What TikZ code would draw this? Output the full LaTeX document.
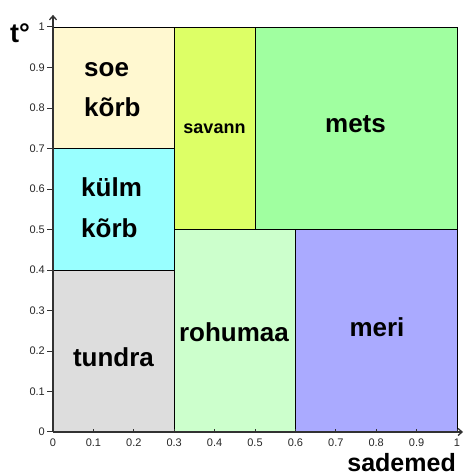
\documentclass[tikz,border=0pt]{standalone}
\usepackage{fontspec}
\setmainfont{Liberation Sans}
\usetikzlibrary{arrows.meta}
\definecolor{soecol}{RGB}{255,248,208}
\definecolor{kulmcol}{RGB}{153,255,255}
\definecolor{tundracol}{RGB}{221,221,221}
\definecolor{savanncol}{RGB}{221,255,102}
\definecolor{metscol}{RGB}{160,255,160}
\definecolor{rohucol}{RGB}{204,255,204}
\definecolor{mericol}{RGB}{170,170,255}
\definecolor{axiscol}{RGB}{50,50,50}
\begin{document}
\begin{tikzpicture}[x=1pt,y=1pt,
  zone/.style={draw=black,line width=0.9pt},
  biome/.style={inner sep=0pt,font=\fontsize{26}{30}\selectfont\bfseries},
  smallbiome/.style={inner sep=0pt,font=\fontsize{18}{22}\selectfont\bfseries},
  ticklabel/.style={inner sep=0pt,font=\fontsize{11}{13}\selectfont,text=black!85},
  axisline/.style={draw=axiscol,line width=1.3pt},
  tickmark/.style={draw=axiscol,line width=1pt}]
\useasboundingbox (0,0) rectangle (465,475);

% climate zones in data coordinates (rainfall x, temperature y)
\begin{scope}[shift={(53,43)},x=404pt,y=405pt]
  \filldraw[zone,fill=soecol]    (0,0.7)   rectangle (0.3,1);
  \filldraw[zone,fill=kulmcol]   (0,0.4)   rectangle (0.3,0.7);
  \filldraw[zone,fill=tundracol] (0,0)     rectangle (0.3,0.4);
  \filldraw[zone,fill=savanncol] (0.3,0.5) rectangle (0.5,1);
  \filldraw[zone,fill=metscol]   (0.5,0.5) rectangle (1,1);
  \filldraw[zone,fill=rohucol]   (0.3,0)   rectangle (0.6,0.5);
  \filldraw[zone,fill=mericol]   (0.6,0)   rectangle (1,0.5);

  % axes
  \coordinate (org) at (0,0);
  \coordinate (ytip) at (0,1.03);
  \coordinate (xtip) at (1.015,0);
  \draw[axisline,-{Straight Barb[length=4pt,width=7pt]}] (org) -- (ytip);
  \draw[axisline,-{Straight Barb[length=4pt,width=7pt]}] (org) -- (xtip);

  % ticks and their labels
  \foreach \v/\t in {0/0,1/0.1,2/0.2,3/0.3,4/0.4,5/0.5,6/0.6,7/0.7,8/0.8,9/0.9,10/1}{
    \draw[tickmark] (-6pt,\v/10) -- (0,\v/10);
    \draw[tickmark] (\v/10,0) -- (\v/10,3pt);
    \node[ticklabel,anchor=east] (yl\v) at ([xshift=-8pt]0,\v/10) {\t};
    \node[ticklabel,anchor=base] (xl\v) at ([yshift=-15pt]\v/10,0) {\t};
  }
\end{scope}

% zone names
\node[biome,anchor=base west] (soe)    at (84,398) {soe};
\node[biome,anchor=base west] (korb1)  at (84,358) {kõrb};
\node[biome,anchor=base west] (kulm)   at (81,278) {külm};
\node[biome,anchor=base west] (korb2)  at (81,237) {kõrb};
\node[smallbiome,anchor=base] (savann) at (214.5,341) {savann};
\node[biome,anchor=base] (mets)        at (355.5,342) {mets};
\node[biome,anchor=base] (rohumaa)     at (234,133) {rohumaa};
\node[biome,anchor=base] (tundra)      at (113.5,108) {tundra};
\node[biome,anchor=base] (meri)        at (377,138) {meri};

% axis titles
\node[inner sep=0pt,anchor=base west,font=\fontsize{27}{30}\selectfont\bfseries] (temp) at (10,432) {t°};
\node[inner sep=0pt,anchor=base east,font=\fontsize{25}{30}\selectfont\bfseries] (rain) at (456,4) {sademed};
\end{tikzpicture}
\end{document}
